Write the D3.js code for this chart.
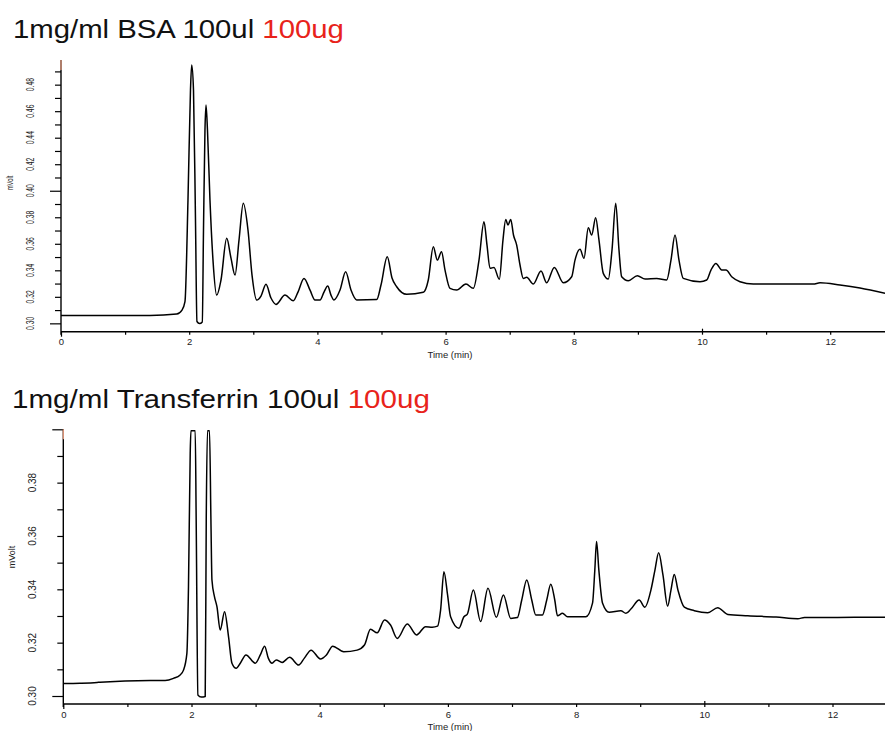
<!DOCTYPE html>
<html>
<head>
<meta charset="utf-8">
<script src="https://cdn.jsdelivr.net/npm/d3@7"></script>
<style>
  body { margin: 0; background: #fff; }
  svg { display: block; }
  text { font-family: "Liberation Sans", Arial, sans-serif; }
</style>
</head>
<body>
<div id="chart"></div>
<script>
// chromatogram traces: [time (min), signal (mVolt)]
const bsaTrace = [
  [0, 0.3059], [1.388, 0.3060], [1.805, 0.3070], [1.888, 0.3100], [1.934, 0.3163], [1.981, 0.3930],
  [2.020, 0.4759], [2.039, 0.4948], [2.067, 0.4759], [2.098, 0.3779], [2.121, 0.3014], [2.161, 0.2998],
  [2.204, 0.3010], [2.223, 0.3704], [2.246, 0.4458], [2.262, 0.4646], [2.285, 0.4458], [2.324, 0.3930],
  [2.371, 0.3477], [2.429, 0.3213], [2.496, 0.3327], [2.585, 0.3641], [2.652, 0.3492], [2.715, 0.3364],
  [2.777, 0.3628], [2.844, 0.3905], [2.917, 0.3704], [2.980, 0.3364], [3.053, 0.3176], [3.120, 0.3206],
  [3.198, 0.3294], [3.276, 0.3191], [3.354, 0.3143], [3.495, 0.3213], [3.624, 0.3170], [3.697, 0.3236],
  [3.791, 0.3339], [3.885, 0.3251], [3.963, 0.3176], [4.041, 0.3176], [4.103, 0.3236], [4.161, 0.3281],
  [4.212, 0.3213], [4.259, 0.3176], [4.353, 0.3251], [4.441, 0.3389], [4.524, 0.3251], [4.613, 0.3176],
  [4.925, 0.3179], [4.992, 0.3289], [5.090, 0.3502], [5.164, 0.3342], [5.237, 0.3276], [5.393, 0.3219],
  [5.652, 0.3234], [5.730, 0.3327], [5.808, 0.3578], [5.871, 0.3477], [5.936, 0.3540], [5.991, 0.3402],
  [6.069, 0.3264], [6.173, 0.3251], [6.318, 0.3296], [6.432, 0.3264], [6.521, 0.3477], [6.599, 0.3766],
  [6.646, 0.3590], [6.693, 0.3415], [6.755, 0.3422], [6.838, 0.3332], [6.895, 0.3628], [6.938, 0.3784],
  [6.973, 0.3741], [7.016, 0.3784], [7.059, 0.3666], [7.109, 0.3590], [7.161, 0.3440], [7.212, 0.3339],
  [7.265, 0.3347], [7.368, 0.3296], [7.488, 0.3394], [7.577, 0.3306], [7.696, 0.3422], [7.836, 0.3306],
  [7.967, 0.3351], [8.019, 0.3477], [8.097, 0.3558], [8.159, 0.3490], [8.226, 0.3721], [8.279, 0.3666],
  [8.341, 0.3796], [8.393, 0.3628], [8.460, 0.3377], [8.538, 0.3334], [8.596, 0.3553], [8.654, 0.3905],
  [8.705, 0.3553], [8.747, 0.3351], [8.850, 0.3321], [8.991, 0.3359], [9.111, 0.3334], [9.293, 0.3339],
  [9.449, 0.3327], [9.516, 0.3477], [9.579, 0.3666], [9.641, 0.3477], [9.708, 0.3339], [9.969, 0.3314],
  [10.073, 0.3327], [10.140, 0.3402], [10.218, 0.3452], [10.307, 0.3402], [10.374, 0.3402], [10.468, 0.3349],
  [10.593, 0.3314], [10.800, 0.3296], [11.736, 0.3296], [11.841, 0.3306], [12.153, 0.3289], [12.465, 0.3266],
  [12.855, 0.3226]
];

const transferrinTrace = [
  [0, 0.3047], [0.261, 0.3048], [0.527, 0.3051], [0.573, 0.3052], [1.355, 0.3058], [1.589, 0.3058],
  [1.719, 0.3066], [1.823, 0.3079], [1.875, 0.3097], [1.928, 0.3160], [1.953, 0.3410], [1.980, 0.3911],
  [1.991, 0.3995], [2.058, 0.3995], [2.073, 0.3660], [2.100, 0.3004], [2.152, 0.2996], [2.214, 0.2998],
  [2.230, 0.3660], [2.250, 0.3995], [2.281, 0.3995], [2.303, 0.3660], [2.319, 0.3435], [2.359, 0.3372],
  [2.397, 0.3335], [2.448, 0.3247], [2.516, 0.3316], [2.578, 0.3222], [2.631, 0.3123], [2.698, 0.3104],
  [2.761, 0.3123], [2.850, 0.3154], [2.995, 0.3123], [3.073, 0.3154], [3.141, 0.3187], [3.198, 0.3142],
  [3.256, 0.3123], [3.323, 0.3135], [3.413, 0.3126], [3.531, 0.3145], [3.672, 0.3116], [3.761, 0.3142],
  [3.866, 0.3172], [4.011, 0.3139], [4.105, 0.3154], [4.203, 0.3187], [4.375, 0.3166], [4.584, 0.3172],
  [4.698, 0.3191], [4.792, 0.3250], [4.897, 0.3237], [5.011, 0.3285], [5.105, 0.3266], [5.209, 0.3216],
  [5.366, 0.3270], [5.511, 0.3229], [5.652, 0.3260], [5.756, 0.3258], [5.839, 0.3262], [5.886, 0.3322],
  [5.938, 0.3466], [5.995, 0.3379], [6.042, 0.3297], [6.172, 0.3254], [6.250, 0.3297], [6.303, 0.3307],
  [6.397, 0.3397], [6.511, 0.3279], [6.625, 0.3404], [6.756, 0.3295], [6.866, 0.3379], [6.980, 0.3291],
  [7.084, 0.3294], [7.152, 0.3360], [7.230, 0.3435], [7.308, 0.3360], [7.370, 0.3304], [7.475, 0.3304],
  [7.542, 0.3360], [7.605, 0.3419], [7.667, 0.3360], [7.709, 0.3301], [7.788, 0.3310], [7.866, 0.3297],
  [8.152, 0.3297], [8.256, 0.3348], [8.292, 0.3472], [8.319, 0.3579], [8.355, 0.3472], [8.413, 0.3348],
  [8.516, 0.3314], [8.698, 0.3320], [8.777, 0.3310], [8.855, 0.3326], [8.984, 0.3360], [9.073, 0.3333],
  [9.167, 0.3397], [9.230, 0.3472], [9.288, 0.3537], [9.355, 0.3454], [9.428, 0.3337], [9.480, 0.3397],
  [9.531, 0.3456], [9.589, 0.3397], [9.688, 0.3333], [9.844, 0.3320], [10.053, 0.3312], [10.209, 0.3331],
  [10.366, 0.3306], [10.678, 0.3301], [11.120, 0.3296], [11.459, 0.3290], [11.563, 0.3294], [11.823, 0.3294],
  [12.344, 0.3295], [12.839, 0.3295]
];

// axis ticks
const timeTicks = [0, 1, 2, 3, 4, 5, 6, 7, 8, 9, 10, 11, 12, 13];
const timeLabels = [0, 2, 4, 6, 8, 10, 12];
const bsaTicks = [0.30, 0.31, 0.32, 0.33, 0.34, 0.35, 0.36, 0.37, 0.38, 0.39, 0.40, 0.41, 0.42, 0.43, 0.44, 0.45, 0.46, 0.47, 0.48, 0.49];
const bsaLabels = [0.30, 0.32, 0.34, 0.36, 0.38, 0.40, 0.42, 0.44, 0.46, 0.48];
const tfTicks = [0.30, 0.31, 0.32, 0.33, 0.34, 0.35, 0.36, 0.37, 0.38, 0.39, 0.40];
const tfLabels = [0.30, 0.32, 0.34, 0.36, 0.38];
const majorTicks = [0.30, 0.40];

const width = 885;
const height = 731;

var svg = d3.select("#chart")
    .append("svg")
    .attr("width", width)
    .attr("height", height);

drawPanel({
    title: "1mg/ml BSA 100ul ", titleRed: "100ug", titleY: 38, titleX: 13, titleW: 331,
    trace: bsaTrace, x0: 61, xAxisY: 331.7, yTop: 60, yDomain: [0.2937, 0.4986],
    ticks: bsaTicks, labels: bsaLabels, labelSquash: 0.68, mvoltY: 183
});

drawPanel({
    title: "1mg/ml Transferrin 100ul ", titleRed: "100ug", titleY: 408, titleX: 12, titleW: 418,
    trace: transferrinTrace, x0: 63.3, xAxisY: 704, yTop: 429.3, yDomain: [0.297, 0.40],
    ticks: tfTicks, labels: tfLabels, labelSquash: 1, mvoltY: 557
});

function drawPanel(p) {
    var x = d3.scaleLinear().domain([0, 13]).range([p.x0, p.x0 + 13 * 64.1]);
    var y = d3.scaleLinear().domain(p.yDomain).range([p.xAxisY, p.yTop]);
    var g = svg.append("g");

    // title, stretched to the width it has in the picture
    var title = g.append("text")
        .attr("font-size", 26)
        .attr("fill", "#111");
    title.append("tspan").text(p.title);
    title.append("tspan").attr("fill", "#e8231b").text(p.titleRed);
    var len = title.node().getComputedTextLength();
    title.attr("transform", "translate(" + p.titleX + "," + p.titleY + ") scale(" + (p.titleW / len) + ",1)");

    // x axis
    var xAxis = g.append("g")
        .attr("transform", "translate(0," + p.xAxisY + ")")
        .call(d3.axisBottom(x)
            .tickValues(timeTicks)
            .tickSize(4)
            .tickFormat(d => timeLabels.includes(d) ? d : ""));
    xAxis.select(".domain").attr("d", "M" + p.x0 + ",0H" + width).attr("stroke-width", 1.4);
    xAxis.selectAll(".tick line")
        .attr("stroke-width", 1.2)
        .attr("y1", d => d === 10 ? -3 : 0)
        .attr("y2", d => d === 0 ? 5 : 3);
    xAxis.selectAll(".tick text")
        .attr("font-size", 9.5)
        .attr("font-family", "Liberation Sans, Arial, sans-serif")
        .attr("fill", "#222")
        .attr("y", 7);

    g.append("text")
        .attr("x", 450)
        .attr("y", p.xAxisY + 26)
        .attr("text-anchor", "middle")
        .attr("font-size", 9.5)
        .attr("fill", "#222")
        .text("Time (min)");

    // y axis
    var yAxis = g.append("g")
        .attr("transform", "translate(" + p.x0 + ",0)")
        .call(d3.axisLeft(y)
            .tickValues(p.ticks)
            .tickSize(6)
            .tickFormat(""));
    yAxis.select(".domain").attr("d", "M0," + p.yTop + "V" + (p.xAxisY + 3)).attr("stroke-width", 1.4);
    yAxis.selectAll(".tick line")
        .attr("stroke-width", 1.2)
        .attr("x2", d => majorTicks.some(m => Math.abs(m - d) < 1e-6) ? -11 : -6);

    g.selectAll(".ylab")
        .data(p.labels)
        .enter()
        .append("text")
        .attr("class", "ylab")
        .attr("transform", d => "translate(" + (p.x0 - 27.5) + "," + y(d) + ") rotate(-90) scale(" + p.labelSquash + ",1)")
        .attr("text-anchor", "middle")
        .attr("font-size", 10)
        .attr("fill", "#222")
        .text(d => d3.format(".2f")(d));

    g.append("text")
        .attr("transform", "translate(" + (p.x0 - 48) + "," + p.mvoltY + ") rotate(-90) scale(" + (p.labelSquash < 1 ? 0.65 : 1) + ",1)")
        .attr("text-anchor", "middle")
        .attr("font-size", 9)
        .attr("fill", "#222")
        .text("mVolt");

    // orange marker at the top of the signal axis
    g.append("line")
        .attr("x1", p.x0).attr("x2", p.x0)
        .attr("y1", p.yTop).attr("y2", p.yTop + 10)
        .attr("stroke", "#f0a080")
        .attr("stroke-width", 1.2);

    // the trace
    var line = d3.line()
        .x(d => x(d[0]))
        .y(d => y(d[1]))
        .curve(d3.curveMonotoneX);

    g.append("path")
        .datum(p.trace)
        .attr("d", line)
        .attr("fill", "none")
        .attr("stroke", "#000")
        .attr("stroke-width", 1.5)
        .attr("stroke-linejoin", "round");
}
</script>
</body>
</html>
